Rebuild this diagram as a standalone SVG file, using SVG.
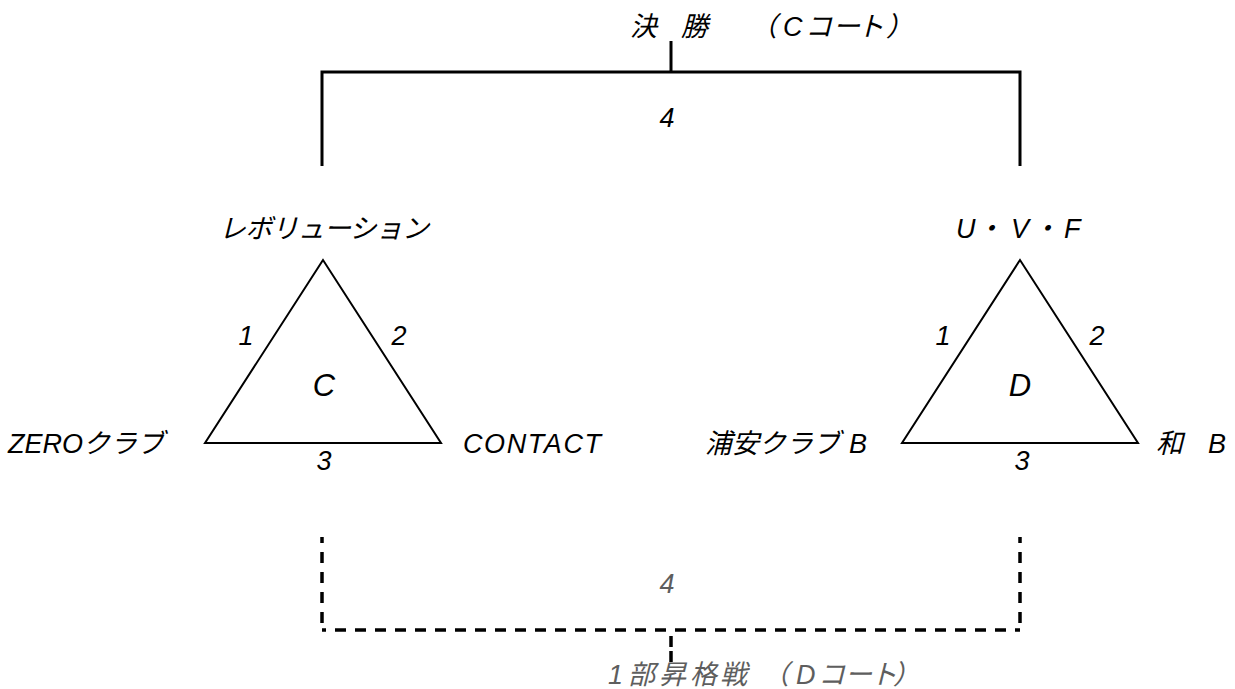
<svg xmlns="http://www.w3.org/2000/svg" width="1235" height="689" viewBox="0 0 1235 689">
<style>
text{font-family:"Liberation Sans","Noto Sans CJK JP",sans-serif;font-style:italic;font-size:27px;fill:#000}
.g{fill:#5e5e5e}
.m{text-anchor:middle}
.big{font-size:31px}
.tri{fill:#fff;stroke:#000;stroke-width:2;stroke-linejoin:miter}
.solid{fill:none;stroke:#000;stroke-width:3}
.dash{fill:none;stroke:#000;stroke-width:3.5;stroke-dasharray:11 9}
</style>
<rect width="1235" height="689" fill="#fff"/>
<g id="connectors">
<path class="solid" d="M671,41V72"/>
<path class="solid" d="M322,166V72H1020V166"/>
<path class="dash" d="M322,537V630" style="stroke-dashoffset:5"/>
<path class="dash" d="M1020,537V630" style="stroke-dashoffset:5"/>
<path class="dash" d="M322,630H1020" style="stroke-dashoffset:7"/>
<path class="dash" d="M671,636V663" style="stroke-dasharray:11 4"/>
</g>
<g id="final-label">
<text x="630 656 681 707 728 750 783 805 833 857 886" y="36">決　勝　　（Cコート）</text>
<text class="m" x="667" y="127">4</text>
</g>
<g id="promotion-label">
<text class="m g" x="667" y="593">4</text>
<text class="g" x="608 628 659 690 720 748 762 796 818 845 870 893" y="684">1部昇格戦　（Dコート）</text>
</g>
<g id="group-C">
<polygon class="tri" points="323,260 205,443 441,443"/>
<text class="m" x="246" y="345">1</text>
<text class="m" x="399" y="345">2</text>
<text class="m big" x="324" y="396">C</text>
<text class="m" x="324" y="470">3</text>
</g>
<g id="team-revolution"><text class="m" x="324" y="238" textLength="210">レボリューション</text></g>
<g id="team-zero"><text x="8" y="453">ZEROクラブ</text></g>
<g id="team-contact"><text x="463" y="453" textLength="138">CONTACT</text></g>
<g id="group-D">
<polygon class="tri" points="1020,260 902,443 1138,443"/>
<text class="m" x="943" y="345">1</text>
<text class="m" x="1097" y="345">2</text>
<text class="m big" x="1020" y="396">D</text>
<text class="m" x="1022" y="470">3</text>
</g>
<g id="team-uvf"><text x="956 976 1011 1032 1064" y="238">U・V・F</text></g>
<g id="team-urayasu"><text y="453"><tspan x="705">浦安クラブ</tspan><tspan x="849">B</tspan></text></g>
<g id="team-nagomi"><text y="453"><tspan x="1156">和　</tspan><tspan x="1208">B</tspan></text></g>
</svg>
